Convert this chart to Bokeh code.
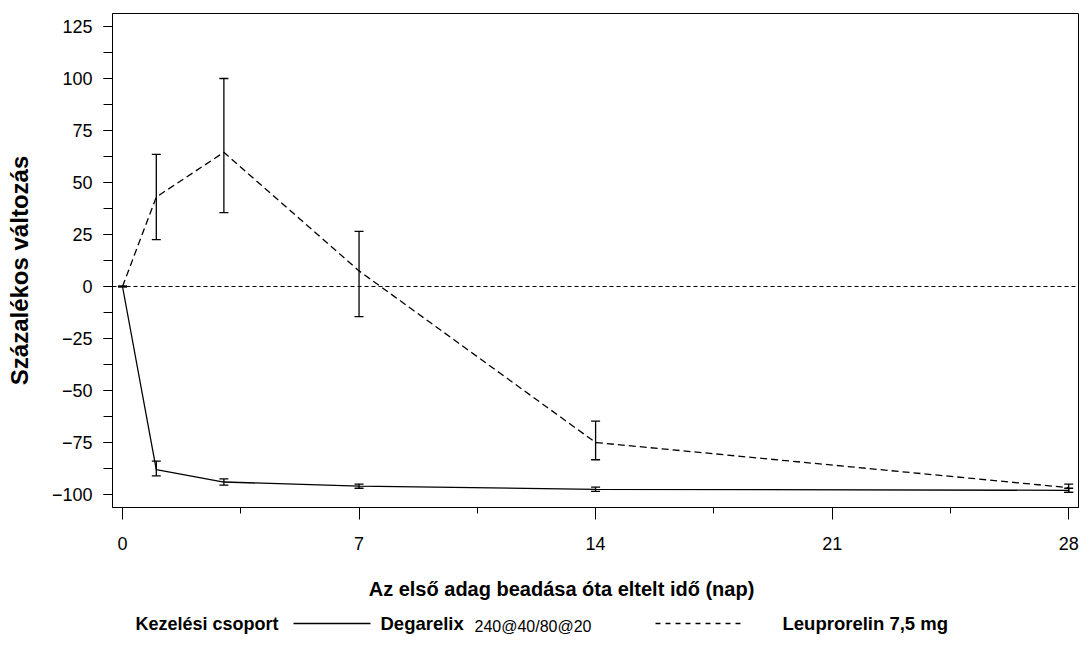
import math
from bokeh.plotting import figure
from bokeh.models import (Range1d, SingleIntervalTicker, Whisker, TeeHead,
                          ColumnDataSource, Span)
from bokeh.layouts import column
from bokeh.core.properties import value
from bokeh.embed import file_html
from bokeh.resources import INLINE

# ---- data ----
days = [0, 1, 3, 7, 14, 28]
deg_mean = [0, -88, -94, -96, -97.5, -98]
deg_lower = [0, -91, -95.5, -97, -98.5, -99]
deg_upper = [0, -84, -92.5, -95, -96.5, -97]
leu_mean = [0, 43, 64.5, 7.5, -75, -96.7]
leu_lower = [0, 22.5, 35.5, -14.5, -83.3, -99]
leu_upper = [0, 63.5, 100, 26.5, -64.7, -95]

y_major = list(range(-100, 126, 25))
x_major = [0, 7, 14, 21, 28]

series_names = ["Degarelix", "Leuprorelin 7,5 mg"]
legend_title = "Kezelési csoport"
deg_sub = "240@40/80@20"
x_title = "Az első adag beadása óta eltelt idő (nap)"
y_title = "Százalékos változás"

FONT = "Liberation Sans"

p = figure(width=1080, height=560,
           x_range=Range1d(-0.296, 28.29), y_range=Range1d(-106.25, 131.25),
           output_backend="svg", toolbar_location=None,
           min_border_left=112, min_border_right=2,
           min_border_top=13, min_border_bottom=53)
p.grid.visible = False
p.outline_line_color = "black"
p.outline_line_width = 1
p.background_fill_color = "white"
p.border_fill_color = "white"

# zero reference line
p.add_layout(Span(location=0, dimension="width", line_color="black",
                  line_width=1, line_dash="4 3"))

deg_src = ColumnDataSource(dict(x=days, y=deg_mean, lo=deg_lower, up=deg_upper))
leu_src = ColumnDataSource(dict(x=days, y=leu_mean, lo=leu_lower, up=leu_upper))

p.line("x", "y", source=deg_src, line_color="black", line_width=1.3)
p.line("x", "y", source=leu_src, line_color="black", line_width=1.3,
       line_dash="7 4")

for src in (deg_src, leu_src):
    p.add_layout(Whisker(source=src, base="x", lower="lo", upper="up",
                         dimension="height", line_color="black", line_width=1.3,
                         lower_head=TeeHead(size=9, line_color="black", line_width=1.3),
                         upper_head=TeeHead(size=9, line_color="black", line_width=1.3)))

# x axis
xa = p.xaxis[0]
xa.ticker = SingleIntervalTicker(interval=7, num_minor_ticks=2)
xa.major_tick_in = 0
xa.major_tick_out = 12
xa.minor_tick_in = 0
xa.minor_tick_out = 6
xa.major_label_text_font = FONT
xa.major_label_text_font_size = "18px"
xa.major_label_text_color = "black"
xa.major_label_standoff = 17
xa.axis_line_color = "black"
xa.major_tick_line_color = "black"
xa.minor_tick_line_color = "black"

# y axis
ya = p.yaxis[0]
ya.ticker = SingleIntervalTicker(interval=25, num_minor_ticks=2)
ya.major_tick_in = 0
ya.major_tick_out = 9
ya.minor_tick_in = 0
ya.minor_tick_out = 9
ya.major_label_overrides = {v: str(v).replace("-", "\u2212") for v in y_major}
ya.major_label_text_font = FONT
ya.major_label_text_font_size = "18px"
ya.major_label_text_color = "black"
ya.major_label_standoff = 11
ya.axis_line_color = "black"
ya.major_tick_line_color = "black"
ya.minor_tick_line_color = "black"
# trailing no-break spaces nudge the visible title slightly below frame centre
ya.axis_label = y_title + "\u00a0\u00a0\u00a0"
ya.axis_label_text_font = FONT
ya.axis_label_text_font_style = "bold"
ya.axis_label_text_font_size = "24px"
ya.axis_label_text_color = "black"
ya.axis_label_standoff = 16

# ---- x title + legend strip (x data = page pixels, frame aligned with main) ----
SH = 85
lf = figure(width=1080, height=SH, x_range=Range1d(112, 1078), y_range=Range1d(0, SH),
            output_backend="svg", toolbar_location=None, min_border=0,
            min_border_left=112, min_border_right=2)
lf.axis.visible = False
lf.grid.visible = False
lf.outline_line_color = None

top = 560
def yy(page_y):
    return SH - (page_y - top)

lf.text(x=[561], y=[yy(588)], text=[x_title], text_font=value(FONT),
        text_font_style="bold", text_font_size="20px", text_baseline="middle",
        text_align="center", text_color="black")

ly = yy(623)
lf.text(x=[135], y=[ly], text=[legend_title], text_font=value(FONT),
        text_font_style="bold", text_font_size="18px", text_baseline="middle",
        text_color="black")
lf.line([293, 370], [ly, ly], line_color="black", line_width=1.3)
lf.text(x=[380], y=[ly], text=[series_names[0]], text_font=value(FONT),
        text_font_style="bold", text_font_size="18.5px", text_baseline="middle",
        text_color="black")
lf.text(x=[474], y=[ly - 3], text=[deg_sub], text_font=value(FONT),
        text_font_size="16px", text_baseline="middle", text_color="black")
lf.line([655, 745], [ly, ly], line_color="black", line_width=1.3, line_dash="5 5")
lf.text(x=[782], y=[ly], text=[series_names[1]], text_font=value(FONT),
        text_font_style="bold", text_font_size="18.5px", text_baseline="middle",
        text_color="black")

layout = column(p, lf, spacing=0)
open("out.html", "w").write(file_html(layout, INLINE))
